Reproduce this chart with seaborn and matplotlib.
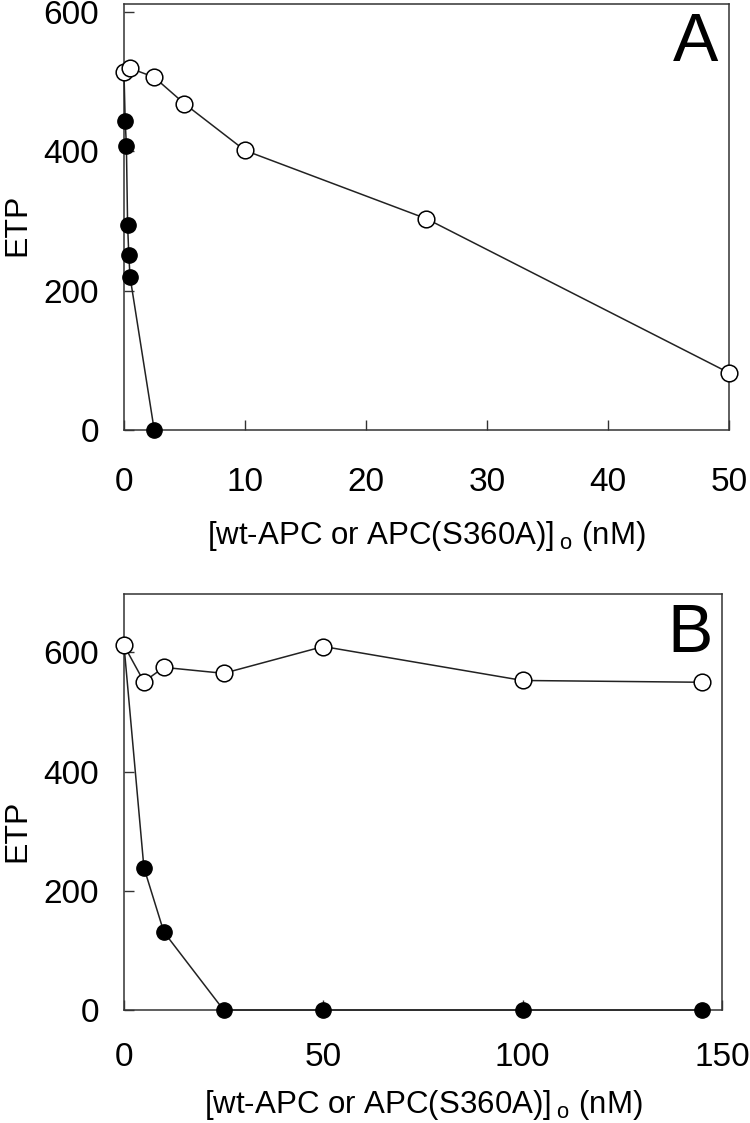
import matplotlib
matplotlib.use("Agg")
import matplotlib.pyplot as plt
import seaborn as sns
import pandas as pd

# panel A: ETP vs protease concentration (nM), 0-50 nM
a_open_x = [0, 0.5, 2.5, 5, 10, 25, 50]
a_open_y = [513, 519, 506, 468, 401, 303, 82]
a_fill_x = [0, 0.1, 0.2, 0.3, 0.4, 0.5, 2.5]
a_fill_y = [513, 443, 408, 294, 251, 220, 0]

# panel B: 0-150 nM
b_open_x = [0, 5, 10, 25, 50, 100, 145]
b_open_y = [612, 551, 575, 565, 610, 553, 550]
b_fill_x = [0, 5, 10, 25, 50, 100, 145]
b_fill_y = [612, 239, 131, 0, 0, 0, 0]

xlabel = r"[wt-APC or APC(S360A)]$\,_{\mathregular{o}}$ (nM)"

sns.set_style("ticks")
plt.rcParams["font.family"] = ["Liberation Sans", "DejaVu Sans"]
plt.rcParams["mathtext.default"] = "regular"
plt.rcParams["axes.edgecolor"] = "#333333"
plt.rcParams["axes.linewidth"] = 1.1
plt.rcParams["xtick.direction"] = "in"
plt.rcParams["ytick.direction"] = "in"
plt.rcParams["text.color"] = "black"
plt.rcParams["axes.labelcolor"] = "black"
plt.rcParams["xtick.labelcolor"] = "black"
plt.rcParams["ytick.labelcolor"] = "black"

fig = plt.figure(figsize=(7.5, 11.23), dpi=100)
axA = fig.add_axes([0.1653, 0.6171, 0.8067, 0.3793])
axB = fig.add_axes([0.1653, 0.1006, 0.7974, 0.3704])


def draw(ax, ox, oy, fx, fy, xpad, lpad):
    sns.lineplot(ax=ax, x=fx, y=fy, sort=False, estimator=None, color="#222222",
                 lw=1.1, marker="o", markersize=11, markerfacecolor="black",
                 markeredgecolor="black", markeredgewidth=1.0, zorder=3)
    sns.lineplot(ax=ax, x=ox, y=oy, sort=False, estimator=None, color="#222222",
                 lw=1.1, marker="o", markersize=12, markerfacecolor="white",
                 markeredgecolor="black", markeredgewidth=1.1, zorder=4)
    for s in ax.spines.values():
        s.set_visible(True)
    ax.tick_params(direction="in", length=7, width=1.0, color="#333333",
                   labelsize=24, labelcolor="black", top=False, right=False)
    ax.tick_params(axis="x", pad=xpad)
    ax.tick_params(axis="y", pad=18)
    ax.set_xlabel(xlabel, fontsize=22.5, labelpad=lpad)
    ax.set_ylabel("ETP", fontsize=23)
    for m in ax.lines:
        m.set_clip_on(False)


draw(axA, a_open_x, a_open_y, a_fill_x, a_fill_y, 27, 15)
axA.set_xlim(0, 50)
axA.set_ylim(0, 611)
axA.set_xticks([0, 10, 20, 30, 40, 50])
axA.set_yticks([0, 200, 400, 600])
axA.yaxis.set_label_coords(-0.152, 0.481)
axA.text(0.945, 0.909, "A", transform=axA.transAxes, fontsize=49,
         ha="center", va="center")

draw(axB, b_open_x, b_open_y, b_fill_x, b_fill_y, 23, 11)
axB.set_xlim(0, 150)
axB.set_ylim(0, 698)
axB.set_xticks([0, 50, 100, 150])
axB.set_yticks([0, 200, 400, 600])
axB.yaxis.set_label_coords(-0.154, 0.43)
axB.text(0.946, 0.904, "B", transform=axB.transAxes, fontsize=49,
         ha="center", va="center")

fig.savefig("out.png", dpi=100, facecolor="white")
